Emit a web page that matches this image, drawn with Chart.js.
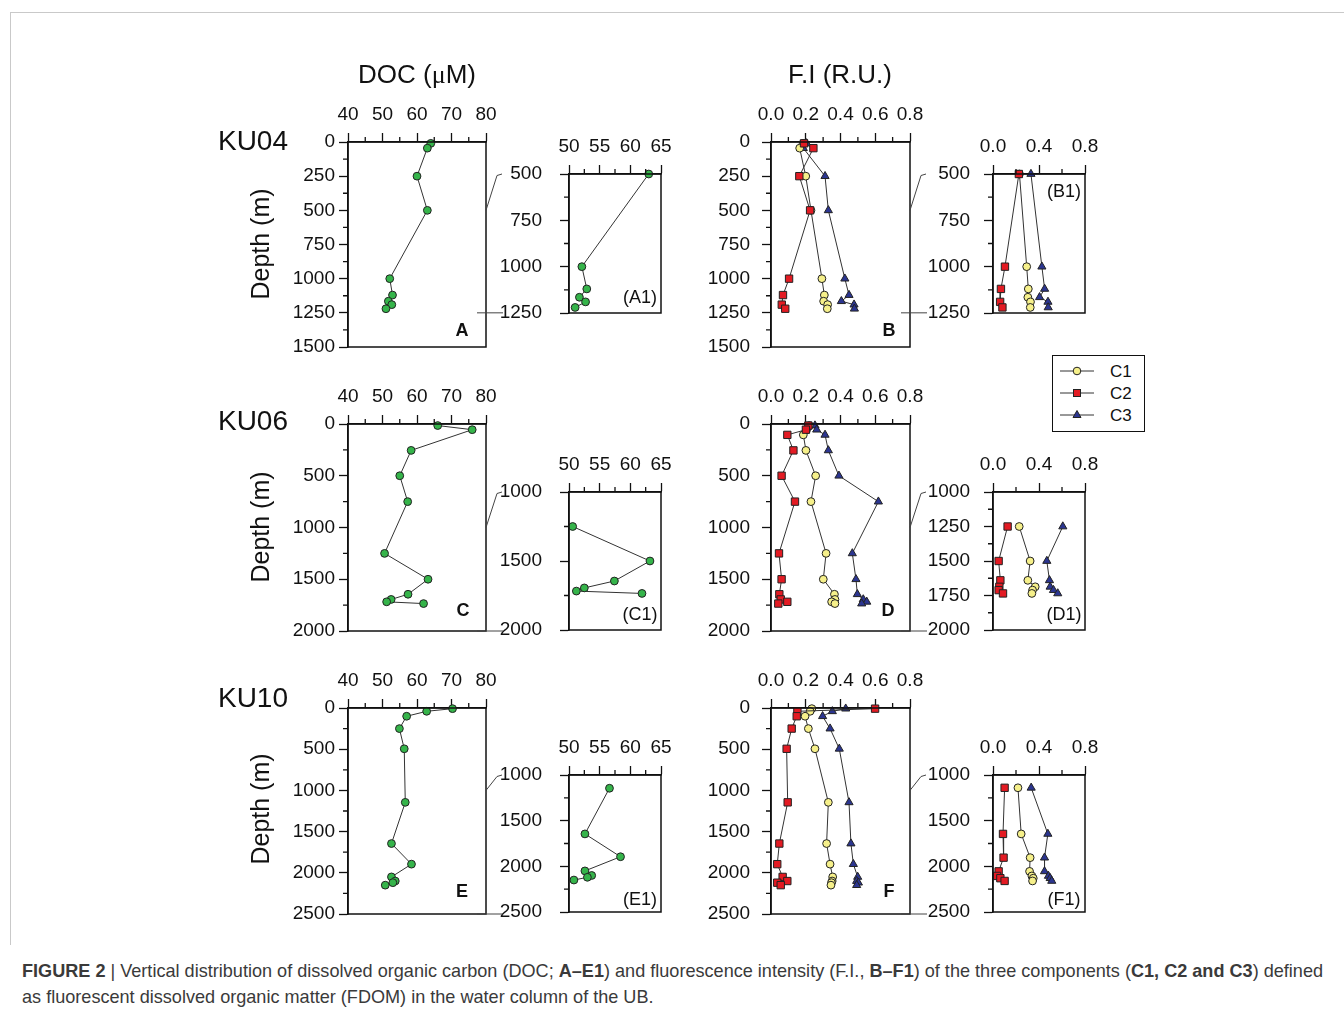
<!DOCTYPE html>
<html>
<head>
<meta charset="utf-8">
<script src="https://cdn.jsdelivr.net/npm/chart.js@4.4.1/dist/chart.umd.min.js"></script>
<style>
  body { margin: 0; background: #fff; font-family: "Liberation Sans", Arial, sans-serif; }
  #page { position: relative; width: 1344px; height: 1010px; overflow: hidden; background: #fff; }
  #frame { position: absolute; left: 10px; top: 12px; width: 1340px; height: 932px;
           border-left: 1px solid #c9c9c9; border-top: 1px solid #c9c9c9; }
  canvas { position: absolute; }
  .txt { position: absolute; white-space: nowrap; line-height: 1; color: #111; transform: translate(-50%, -50%); }
  #legend { position: absolute; left: 1052px; top: 355px; width: 91px; height: 75px; border: 1.5px solid #111; background: #fff; }
  #caption { position: absolute; left: 22px; top: 958px; font-size: 18.1px; line-height: 26px; color: #3a3a3a; white-space: nowrap; }
</style>
</head>
<body>
<div id="page">
  <div id="frame"></div>
  <div id="legend"></div>
  <div id="caption"><b>FIGURE 2</b> | Vertical distribution of dissolved organic carbon (DOC; <b>A–E1</b>) and fluorescence intensity (F.I., <b>B–F1</b>) of the three components (<b>C1, C2 and C3</b>) defined<br>as fluorescent dissolved organic matter (FDOM) in the water column of the UB.</div>
</div>
<script>
// station KU04
const ku04Depth = [10, 45, 250, 500, 1000, 1120, 1165, 1190, 1220];
const ku04Doc = [64, 63, 60, 63, 52.1, 52.9, 51.7, 52.7, 51];
const ku04C1 = [0.185, 0.165, 0.2, 0.23, 0.293, 0.307, 0.303, 0.326, 0.324];
const ku04C2 = [0.19, 0.244, 0.163, 0.225, 0.104, 0.069, null, 0.062, 0.082];
const ku04C3 = [0.205, 0.186, 0.311, 0.33, 0.425, 0.449, 0.405, 0.478, 0.48];

// station KU06
const ku06Depth = [15, 55, 105, 255, 500, 750, 1250, 1500, 1645, 1695, 1718, 1735];
const ku06Doc = [66, 76, null, 58.3, 55, 57.3, 50.6, 63.2, 57.4, 52.5, 51.2, 61.9];
const ku06C1 = [0.22, 0.205, 0.186, 0.201, 0.257, 0.23, 0.317, 0.301, 0.365, 0.368, 0.349, 0.368];
const ku06C2 = [0.215, 0.201, 0.094, 0.129, 0.061, 0.138, 0.046, 0.061, 0.048, 0.056, 0.094, 0.042];
const ku06C3 = [0.253, 0.263, 0.311, 0.33, 0.391, 0.618, 0.468, 0.489, 0.497, 0.531, 0.551, 0.522];

// inset D1 (as drawn in the figure)
const d1Depth = [1250, 1500, 1640, 1687, 1711, 1735];
const d1C1 = [0.228, 0.323, 0.303, 0.367, 0.344, 0.338];
const d1C2 = [0.127, 0.049, 0.064, 0.055, 0.049, 0.087];
const d1C3 = [0.607, 0.468, 0.491, 0.497, 0.526, 0.563];

// station KU10
const ku10Depth = [8, 40, 100, 250, 495, 1145, 1645, 1895, 2050, 2100, 2120, 2150];
const ku10Doc = [70.3, 62.8, 57, 54.9, 56.3, 56.6, 52.6, 58.4, 52.6, 53.7, 53, 50.8];
const ku10C1 = [0.235, 0.225, 0.196, 0.215, 0.253, 0.33, 0.32, 0.34, 0.355, 0.352, 0.348, 0.345];
const ku10C2 = [0.599, 0.152, 0.148, 0.119, 0.09, 0.096, 0.048, 0.036, 0.067, 0.094, 0.036, 0.056];
const ku10C3 = [0.43, 0.353, 0.297, 0.34, 0.393, 0.449, 0.46, 0.474, 0.499, 0.493, 0.503, 0.493];

// inset F1 (as drawn in the figure)
const f1Depth = [1140, 1645, 1905, 2055, 2105, 2130, 2160];
const f1C1 = [0.217, 0.245, 0.323, 0.318, 0.338, 0.35, 0.344];
const f1C2 = [0.101, 0.087, 0.092, 0.049, 0.035, 0.064, 0.101];
const f1C3 = [0.332, 0.477, 0.448, 0.448, 0.482, 0.497, 0.511];

// axis ranges: [min, max, labelled step, minor step]
const docX = [40, 80, 10, 5];
const docXInset = [50, 65, 5, 2.5];
const fiX = [0, 0.8, 0.2, 0.1];
const fiXInset = [0, 0.8, 0.4, 0.2];

const GREEN = "#35b44a";
const YELLOW = "#f6f08a";
const RED = "#e31b23";
const BLUE = "#2b3590";
const INK = "#111";

Chart.defaults.font.family = '"Liberation Sans", Arial, sans-serif';

const page = document.getElementById("page");
const LEFT = 76, TOP = 46, RIGHT = 30, BOTTOM = 40;

function pts(depth, vals, minDepth) {
  const out = [];
  depth.forEach((d, i) => {
    if (vals[i] == null || d < minDepth) return;
    out.push({ x: vals[i], y: d });
  });
  return out;
}

function line(data, style, color, radius, order) {
  return {
    data, showLine: true, clip: false, order,
    borderColor: "#333", borderWidth: 1,
    pointStyle: style, pointRadius: radius,
    pointBackgroundColor: color, pointBorderColor: "#222", pointBorderWidth: 1,
  };
}

function docSets(depth, doc, min) {
  return [line(pts(depth, doc, min), "circle", GREEN, 3.9, 0)];
}

function fiSets(depth, c1, c2, c3, min) {
  return [
    line(pts(depth, c1, min), "circle", YELLOW, 3.9, 1),
    line(pts(depth, c2, min), "rect", RED, 5.2, 0),
    line(pts(depth, c3, min), "triangle", BLUE, 4.7, 2),
  ];
}

const panels = [
  { key: "A", box: [348, 142, 486, 347], xs: docX, ys: [0, 1500, 250, 125], pad: 4, sets: docSets(ku04Depth, ku04Doc, 0) },
  { key: "A1", box: [569, 174, 661, 313], xs: docXInset, ys: [500, 1250, 250, 125], pad: 18, sets: docSets(ku04Depth, ku04Doc, 500) },
  { key: "B", box: [771, 142, 910, 347], xs: fiX, ys: [0, 1500, 250, 125], pad: 12, sets: fiSets(ku04Depth, ku04C1, ku04C2, ku04C3, 0) },
  { key: "B1", box: [993, 174, 1085, 313], xs: fiXInset, ys: [500, 1250, 250, 125], pad: 14, sets: fiSets(ku04Depth, ku04C1, ku04C2, ku04C3, 500) },
  { key: "C", box: [348, 424, 486, 631], xs: docX, ys: [0, 2000, 500, 250], pad: 4, sets: docSets(ku06Depth, ku06Doc, 0) },
  { key: "C1", box: [569, 492, 661, 630], xs: docXInset, ys: [1000, 2000, 500, 250], pad: 18, sets: docSets(ku06Depth, ku06Doc, 1000) },
  { key: "D", box: [771, 424, 910, 631], xs: fiX, ys: [0, 2000, 500, 250], pad: 12, sets: fiSets(ku06Depth, ku06C1, ku06C2, ku06C3, 0) },
  { key: "D1", box: [993, 492, 1085, 630], xs: fiXInset, ys: [1000, 2000, 250, 125], pad: 14, sets: fiSets(d1Depth, d1C1, d1C2, d1C3, 1000) },
  { key: "E", box: [348, 708, 486, 914], xs: docX, ys: [0, 2500, 500, 250], pad: 4, sets: docSets(ku10Depth, ku10Doc, 0) },
  { key: "E1", box: [569, 775, 661, 912], xs: docXInset, ys: [1000, 2500, 500, 250], pad: 18, sets: docSets(ku10Depth, ku10Doc, 1000) },
  { key: "F", box: [771, 708, 910, 914], xs: fiX, ys: [0, 2500, 500, 250], pad: 12, sets: fiSets(ku10Depth, ku10C1, ku10C2, ku10C3, 0) },
  { key: "F1", box: [993, 775, 1085, 912], xs: fiXInset, ys: [1000, 2500, 500, 250], pad: 14, sets: fiSets(f1Depth, f1C1, f1C2, f1C3, 1000) },
];

// frame box + short minor ticks between the labelled ones
const boxAndMinor = {
  id: "boxAndMinor",
  afterDraw(chart, args, opts) {
    const { ctx, chartArea: a } = chart;
    const { x, y } = chart.scales;
    ctx.save();
    ctx.strokeStyle = INK;
    ctx.lineWidth = 1.3;
    ctx.beginPath();
    const minors = (scale, minor, major, draw) => {
      for (let k = 0; ; k++) {
        const v = scale.min + k * minor;
        if (v > scale.max + 1e-9) break;
        const r = (v - scale.min) / major;
        if (Math.abs(r - Math.round(r)) < 1e-6) continue;
        draw(scale.getPixelForValue(v));
      }
    };
    minors(x, opts.xMinor, opts.xMajor, (px) => { ctx.moveTo(px, a.top); ctx.lineTo(px, a.top - 5); });
    minors(y, opts.yMinor, opts.yMajor, (py) => { ctx.moveTo(a.left, py); ctx.lineTo(a.left - 5, py); });
    ctx.stroke();
    ctx.lineWidth = 1.5;
    ctx.strokeRect(a.left, a.top, a.right - a.left, a.bottom - a.top);
    ctx.restore();
  },
};

const charts = {};

function makeChart(p) {
  const [l, t, r, b] = p.box;
  const cv = document.createElement("canvas");
  cv.width = r - l + LEFT + RIGHT;
  cv.height = b - t + TOP + BOTTOM;
  cv.style.left = l - LEFT + "px";
  cv.style.top = t - TOP + "px";
  page.appendChild(cv);
  const [xMin, xMax, xMajor, xMinor] = p.xs;
  const [yMin, yMax, yMajor, yMinor] = p.ys;
  const isFi = xMax < 1;
  return new Chart(cv, {
    type: "scatter",
    data: { datasets: p.sets },
    options: {
      responsive: false,
      animation: false,
      events: [],
      layout: { padding: { left: 0, top: 0, right: RIGHT, bottom: BOTTOM } },
      plugins: {
        legend: { display: false },
        tooltip: { enabled: false },
        boxAndMinor: { xMinor, xMajor, yMinor, yMajor },
      },
      scales: {
        x: {
          type: "linear", position: "top", min: xMin, max: xMax,
          ticks: {
            stepSize: xMajor, autoSkip: false, maxRotation: 0, padding: 7, color: INK,
            font: { size: 19 },
            callback: (v) => (isFi ? Number(v).toFixed(1) : String(Math.round(v))),
          },
          grid: { drawOnChartArea: false, tickLength: 9, tickColor: INK, tickWidth: 1.3 },
          border: { color: INK, width: 1.5 },
          afterFit: (s) => { s.height = TOP; },
        },
        y: {
          type: "linear", reverse: true, min: yMin, max: yMax,
          ticks: {
            stepSize: yMajor, autoSkip: false, padding: p.pad, color: INK,
            font: { size: 19 },
            callback: (v) => String(Math.round(v)),
          },
          grid: { drawOnChartArea: false, tickLength: 9, tickColor: INK, tickWidth: 1.3 },
          border: { color: INK, width: 1.5 },
          afterFit: (s) => { s.width = LEFT; },
        },
      },
    },
    plugins: [boxAndMinor],
  });
}

panels.forEach((p) => { charts[p.key] = makeChart(p); });

// connector lines from each main panel to its inset
const over = document.createElement("canvas");
over.width = 1344; over.height = 1010;
over.style.left = "0px"; over.style.top = "0px";
page.appendChild(over);
const octx = over.getContext("2d");
octx.strokeStyle = "#444";
octx.lineWidth = 1;
octx.beginPath();
[["A", "A1"], ["B", "B1"], ["C", "C1"], ["D", "D1"], ["E", "E1"], ["F", "F1"]].forEach(([m, s]) => {
  const main = charts[m], sub = charts[s];
  const mx = main.canvas.offsetLeft + main.chartArea.right;
  const mTop = main.canvas.offsetTop + main.scales.y.getPixelForValue(sub.scales.y.min);
  const mBot = main.canvas.offsetTop + main.scales.y.getPixelForValue(sub.scales.y.max);
  const sTop = sub.canvas.offsetTop + sub.scales.y.getPixelForValue(sub.scales.y.min);
  octx.moveTo(mx, mTop); octx.lineTo(mx + 11, sTop + 1.5); octx.lineTo(mx + 16, sTop);
  octx.moveTo(mx - 9, mBot); octx.lineTo(mx + 17, mBot);
});
octx.stroke();

// texts
function text(str, x, y, css) {
  const d = document.createElement("div");
  d.className = "txt";
  d.innerHTML = str;
  d.style.left = x + "px";
  d.style.top = y + "px";
  Object.assign(d.style, css || {});
  page.appendChild(d);
}

text('DOC (<span style="font-family:\'Liberation Serif\',serif">μ</span>M)', 417, 74, { fontSize: "26px" });
text("F.I (R.U.)", 840, 74, { fontSize: "26px" });
[["KU04", 141], ["KU06", 421], ["KU10", 698]].forEach(([s, y]) => text(s, 253, y, { fontSize: "28px" }));
[244, 527, 809].forEach((y) => text("Depth (m)", 260, y, { fontSize: "25px", transform: "translate(-50%, -50%) rotate(-90deg)" }));
[["A", 462, 330], ["B", 889, 330], ["C", 463, 610], ["D", 888, 610], ["E", 462, 891], ["F", 889, 891]]
  .forEach(([s, x, y]) => text(s, x, y, { fontSize: "18px", fontWeight: "bold" }));
[["(A1)", 640, 297], ["(B1)", 1064, 191], ["(C1)", 640, 614], ["(D1)", 1064, 614], ["(E1)", 640, 899], ["(F1)", 1064, 899]]
  .forEach(([s, x, y]) => text(s, x, y, { fontSize: "18px" }));

// legend
const legendItems = [["C1", "circle", YELLOW], ["C2", "rect", RED], ["C3", "triangle", BLUE]];
let svg = '<svg width="91" height="75" xmlns="http://www.w3.org/2000/svg">';
legendItems.forEach(([name, shape, color], i) => {
  const y = 15 + i * 22, cx = 24;
  svg += `<line x1="7" y1="${y}" x2="41" y2="${y}" stroke="#333" stroke-width="1"/>`;
  if (shape === "circle") svg += `<circle cx="${cx}" cy="${y}" r="3.8" fill="${color}" stroke="#222"/>`;
  if (shape === "rect") svg += `<rect x="${cx - 3.5}" y="${y - 3.5}" width="7" height="7" fill="${color}" stroke="#222"/>`;
  if (shape === "triangle") svg += `<polygon points="${cx},${y - 4.5} ${cx + 4},${y + 2.5} ${cx - 4},${y + 2.5}" fill="${color}" stroke="#222"/>`;
  svg += `<text x="57" y="${y + 6}" font-size="17" font-family="Liberation Sans, Arial, sans-serif" fill="#111">${name}</text>`;
});
svg += "</svg>";
document.getElementById("legend").innerHTML = svg;
</script>
</body>
</html>
